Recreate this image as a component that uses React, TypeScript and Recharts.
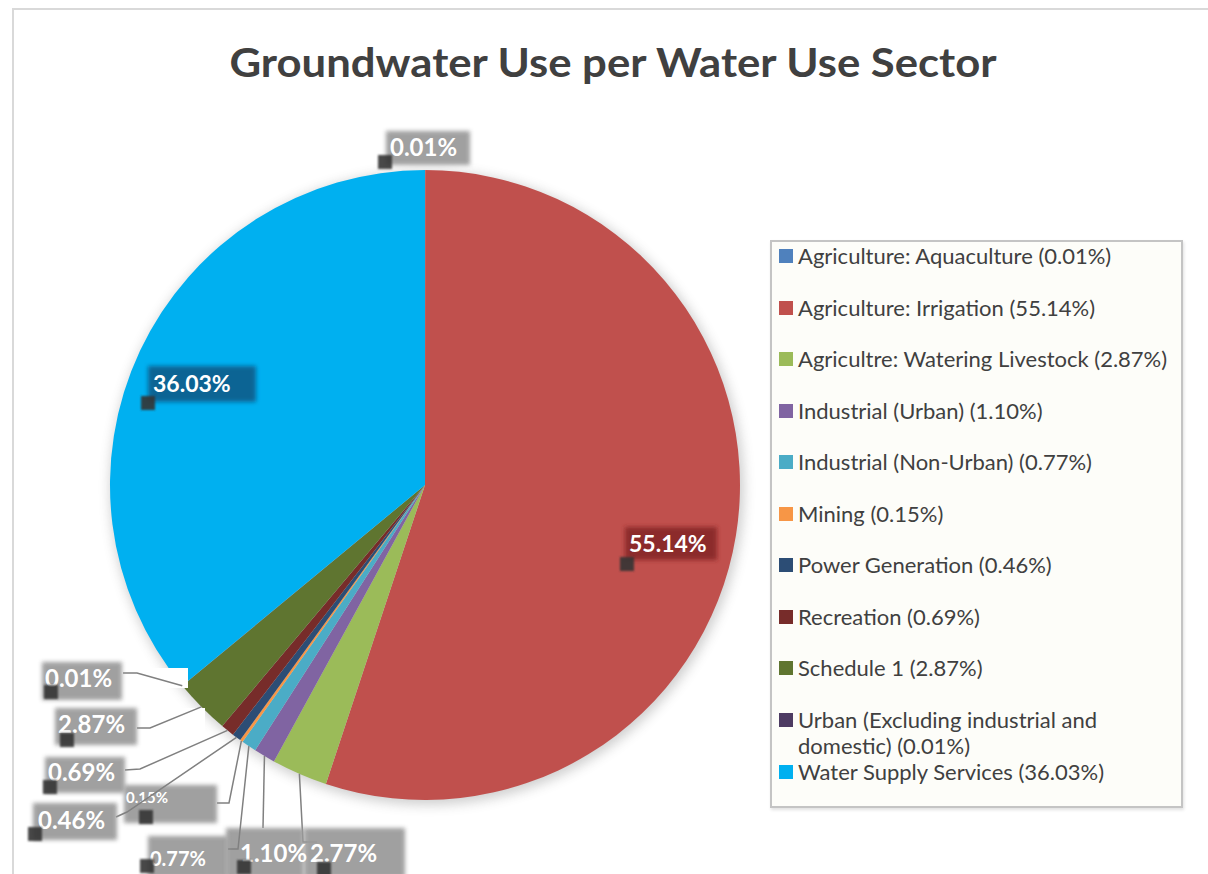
import React from 'react'
import { PieChart, Pie, Cell, Legend } from 'recharts'

const SECTORS = [
  'Agriculture: Aquaculture',
  'Agriculture: Irrigation',
  'Agricultre: Watering Livestock',
  'Industrial (Urban)',
  'Industrial (Non-Urban)',
  'Mining',
  'Power Generation',
  'Recreation',
  'Schedule 1',
  'Urban (Excluding industrial and domestic)',
  'Water Supply Services',
]
const SHARES = [0.01, 55.14, 2.87, 1.1, 0.77, 0.15, 0.46, 0.69, 2.87, 0.01, 36.03]
// data labels as printed on the chart (livestock reads 2.77% there)
const LABEL_TEXT = ['0.01%', '55.14%', '2.77%', '1.10%', '0.77%', '0.15%', '0.46%', '0.69%', '2.87%', '0.01%', '36.03%']
const COLORS = ['#4f81bd', '#c0504d', '#9bbb59', '#8064a2', '#4bacc6', '#f79646', '#2c4d75', '#772c2a', '#5f7530', '#4d3b62', '#00b0f0']

const data = SECTORS.map((name, i) => ({ name, value: SHARES[i] }))

const FONT = 'Lato, "Open Sans", sans-serif'
const GREY = '#9b9b9b'

// hand-placed label boxes (Excel layout), leader lines run from the slice edge
type LabelPos = {
  box: number[]
  text: number[]
  size: number
  marker: number[]
  fill?: string
  path?: number[][]
  mask?: number[]
}
const LABEL_POS: LabelPos[] = [
  { box: [386, 131, 84, 34], text: [390, 156], size: 24, marker: [378, 155] },
  { box: [625, 527, 92, 33], text: [629, 552], size: 23, marker: [620, 557], fill: '#8a2a2a' },
  { box: [304, 828, 101, 50], text: [310, 862], size: 24, marker: [317, 862], path: [[303, 842], [317, 842]] },
  { box: [226, 828, 78, 50], text: [240, 862], size: 24, marker: [237, 860], path: [[263, 828]] },
  { box: [148, 836, 80, 42], text: [150, 866], size: 20, marker: [140, 859], path: [[238, 849], [228, 849]] },
  { box: [124, 785, 93, 38], text: [126, 803], size: 15, marker: [139, 810], path: [[229, 803], [217, 803]] },
  { box: [33, 803, 84, 37], text: [38, 829], size: 24, marker: [28, 827], path: [[127, 812], [116, 817]] },
  { box: [45, 757, 80, 36], text: [48, 781], size: 24, marker: [43, 780], path: [[140, 769], [125, 770]] },
  { box: [55, 708, 82, 37], text: [58, 733], size: 24, marker: [60, 733], path: [[150, 728], [137, 728]], mask: [132, 708, 73, 24] },
  { box: [42, 662, 80, 38], text: [45, 687], size: 24, marker: [44, 685], path: [[137, 673], [123, 673]], mask: [118, 668, 70, 20] },
  { box: [148, 366, 108, 36], text: [153, 392], size: 23, marker: [141, 396], fill: '#0b6190' },
]

const RAD = Math.PI / 180

function renderLabel(props: any) {
  const { cx, cy, midAngle, outerRadius, index } = props
  const p = LABEL_POS[index]
  if (!p) return null
  const ex = cx + outerRadius * Math.cos(-midAngle * RAD)
  const ey = cy + outerRadius * Math.sin(-midAngle * RAD)
  const pts = p.path ? [[ex, ey], ...p.path] : null
  return (
    <g key={`lbl-${index}`}>
      {p.mask && <rect x={p.mask[0]} y={p.mask[1]} width={p.mask[2]} height={p.mask[3]} fill="#fff" />}
      {pts && (
        <polyline points={pts.map((q) => q.join(',')).join(' ')} fill="none" stroke="#808080" strokeWidth={1.5} />
      )}
      <rect x={p.box[0]} y={p.box[1]} width={p.box[2]} height={p.box[3]} fill={p.fill || GREY} opacity={0.95} filter="url(#soft)" />
      <text x={p.text[0]} y={p.text[1]} fill="#fff" fontFamily={FONT} fontWeight={700} fontSize={p.size}>
        {LABEL_TEXT[index]}
      </text>
      <rect x={p.marker[0]} y={p.marker[1]} width={14} height={14} fill="#353535" opacity={0.9} filter="url(#softer)" />
    </g>
  )
}

function LegendBox() {
  // keep the sheet's own order rather than the library's sorted payload
  return (
    <div
      style={{
        width: 413,
        height: 568,
        boxSizing: 'border-box',
        border: '2px solid #c4c4c4',
        background: '#fdfdf9',
        boxShadow: '1px 2px 3px rgba(0,0,0,0.12)',
        paddingTop: 1,
      }}
    >
      {SECTORS.map((name, i) => (
        <div key={name} style={{ display: 'flex', alignItems: 'flex-start', minHeight: 51.5, lineHeight: '26px' }}>
          <span style={{ width: 14, height: 14, background: COLORS[i], marginLeft: 7, marginTop: 6, flex: 'none' }} />
          <span style={{ marginLeft: 5, width: 372, fontFamily: FONT, fontSize: 22, color: '#404040' }}>
            {`${name} (${SHARES[i].toFixed(2)}%)`}
          </span>
        </div>
      ))}
    </div>
  )
}

export default function App() {
  return (
    <div style={{ position: 'fixed', left: 0, top: 0, width: 1208, height: 874, background: '#fff', overflow: 'hidden' }}>
      <svg width={0} height={0} style={{ position: 'absolute' }}>
        <defs>
          <filter id="soft" x="-10%" y="-20%" width="120%" height="140%">
            <feGaussianBlur stdDeviation={2.2} />
          </filter>
          <filter id="softer" x="-20%" y="-20%" width="140%" height="140%">
            <feGaussianBlur stdDeviation={0.8} />
          </filter>
        </defs>
      </svg>
      <div
        style={{
          position: 'absolute',
          left: 12,
          top: 8,
          width: 1220,
          height: 900,
          borderLeft: '2px solid #d9d9d9',
          borderTop: '2px solid #d9d9d9',
        }}
      />
      <svg width={1208} height={110} style={{ position: 'absolute', left: 0, top: 0 }}>
        <text
          x={613}
          y={77}
          textAnchor="middle"
          fontFamily={FONT}
          fontWeight={700}
          fontSize={41}
          fill="#404040"
          textLength={767}
          lengthAdjust="spacingAndGlyphs"
        >
          Groundwater Use per Water Use Sector
        </text>
      </svg>
      {/* soft drop shadow under the pie */}
      <div style={{ position: 'absolute', left: 2, top: 3, filter: 'blur(6px)', opacity: 0.28 }}>
        <PieChart width={1208} height={874} margin={{ top: 0, right: 0, bottom: 0, left: 0 }}>
          <Pie
            data={data}
            dataKey="value"
            cx={425}
            cy={485}
            outerRadius={317}
            startAngle={90}
            endAngle={-270}
            stroke="none"
            fill="#555"
            isAnimationActive={false}
          />
        </PieChart>
      </div>
      <div style={{ position: 'absolute', left: 0, top: 0 }}>
        <PieChart width={1208} height={874} margin={{ top: 0, right: 0, bottom: 0, left: 0 }}>
          <Pie
            data={data}
            dataKey="value"
            nameKey="name"
            cx={425}
            cy={485}
            outerRadius={315}
            startAngle={90}
            endAngle={-270}
            stroke="none"
            label={renderLabel}
            labelLine={false}
            isAnimationActive={false}
          >
            {data.map((_, i) => (
              <Cell key={`c-${i}`} fill={COLORS[i]} />
            ))}
          </Pie>
          <Legend
            layout="vertical"
            align="right"
            verticalAlign="top"
            content={<LegendBox />}
            wrapperStyle={{ left: 770, top: 240, width: 413, height: 568, right: 'auto', bottom: 'auto' }}
          />
        </PieChart>
      </div>
    </div>
  )
}
